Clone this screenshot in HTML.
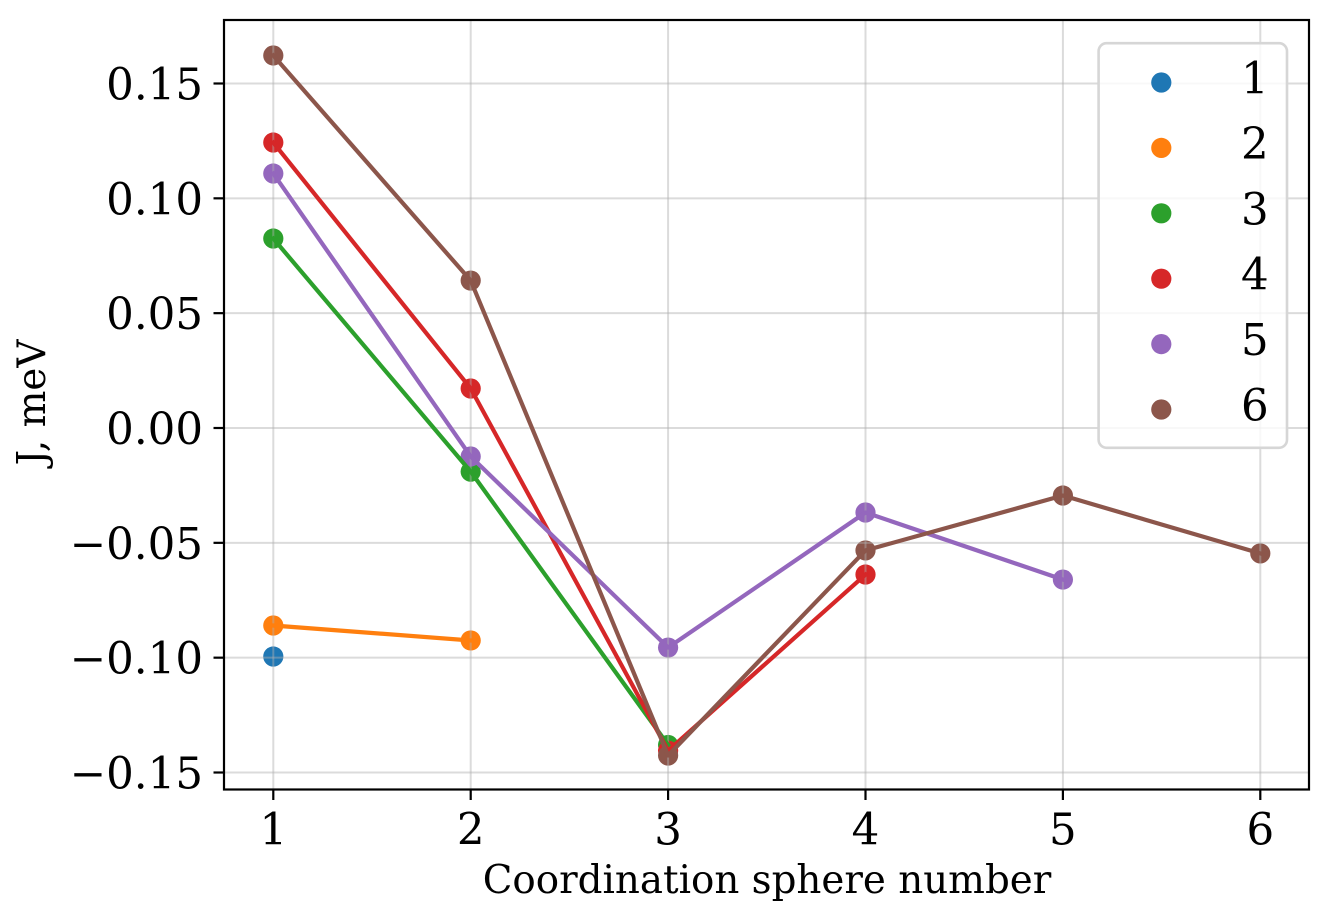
<!DOCTYPE html>
<html>
<head>
<meta charset="utf-8">
<title>Exchange coupling by coordination sphere</title>
<style>
html,body{margin:0;padding:0;background:#fff;}
svg{display:block;}
text{font-family:"DejaVu Serif",serif;fill:#000;}
</style>
</head>
<body>
<svg id="chart" xmlns="http://www.w3.org/2000/svg" width="1328" height="921" viewBox="0 0 1328 921"></svg>
<script>
const xTicks = [1, 2, 3, 4, 5, 6];
const yTicks = [0.15, 0.10, 0.05, 0.00, -0.05, -0.10, -0.15];
const yTickLabels = ["0.15", "0.10", "0.05", "0.00", "\u22120.05", "\u22120.10", "\u22120.15"];
const seriesNames = ["1", "2", "3", "4", "5", "6"];
const seriesColors = ["#1f77b4", "#ff7f0e", "#2ca02c", "#d62728", "#9467bd", "#8c564b"];
const series1 = [-0.0995];
const series2 = [-0.0860, -0.0925];
const series3 = [0.0825, -0.0190, -0.1380];
const series4 = [0.1243, 0.0172, -0.1405, -0.0638];
const series5 = [0.1108, -0.0124, -0.0956, -0.0368, -0.0660];
const series6 = [0.1622, 0.0642, -0.1426, -0.0533, -0.0294, -0.0546];
const allSeries = [series1, series2, series3, series4, series5, series6];

const svg = document.getElementById('chart');
const NS = 'http://www.w3.org/2000/svg';
const plot = {l: 224, r: 1309, t: 20, b: 789.5};
function xScale(v) { return 273.3 + (v - 1) * 197.4; }
function yScale(v) { return 428 - v * 2296.7; }
function make(tag, attrs, parent) {
  const el = document.createElementNS(NS, tag);
  for (const k in attrs) el.setAttribute(k, attrs[k]);
  (parent || svg).appendChild(el);
  return el;
}

// scatter markers sit below the grid and lines
allSeries.forEach(function (vals, s) {
  vals.forEach(function (v, i) {
    const dot = make('circle', {cx: xScale(i + 1), cy: yScale(v), r: 10.1, fill: seriesColors[s]});
    
    
  });
});

// grid
xTicks.forEach(function (t) {
  const g = make('line', {x1: xScale(t), x2: xScale(t), y1: plot.t, y2: plot.b, stroke: '#b0b0b0', 'stroke-opacity': 0.45, 'stroke-width': 2});
  
  
});
yTicks.forEach(function (t, i) {
  const g = make('line', {x1: plot.l, x2: plot.r, y1: yScale(t), y2: yScale(t), stroke: '#b0b0b0', 'stroke-opacity': 0.45, 'stroke-width': 2});
  
  
});

// lines
allSeries.forEach(function (vals, s) {
  if (vals.length < 2) return;
  const pts = vals.map(function (v, i) { return xScale(i + 1) + ',' + yScale(v); }).join(' ');
  const line = make('polyline', {points: pts, fill: 'none', stroke: seriesColors[s], 'stroke-width': 4.2, 'stroke-linecap': 'square', 'stroke-linejoin': 'round'});
  
  
});

// frame
const frame = make('rect', {x: plot.l, y: plot.t, width: plot.r - plot.l, height: plot.b - plot.t, fill: 'none', stroke: '#000', 'stroke-width': 2.2});



// ticks
xTicks.forEach(function (t) {
  const tick = make('line', {x1: xScale(t), x2: xScale(t), y1: plot.b, y2: plot.b + 10.5, stroke: '#000', 'stroke-width': 2.2});
  
  
  const label = make('text', {x: xScale(t), y: 844.5, 'text-anchor': 'middle', 'font-size': 43.5});
  label.textContent = String(t);
  
  
});
yTicks.forEach(function (t, i) {
  const tick = make('line', {x1: plot.l - 10.5, x2: plot.l, y1: yScale(t), y2: yScale(t), stroke: '#000', 'stroke-width': 2.2});
  
  
  const label = make('text', {x: 203, y: yScale(t) + 16, 'text-anchor': 'end', 'font-size': 43.5});
  label.textContent = yTickLabels[i];
  
  
});

// axis titles
const xTitle = make('text', {x: 767, y: 893, 'text-anchor': 'middle', 'font-size': 38.8});
xTitle.textContent = 'Coordination sphere number';


const yTitle = make('text', {x: 0, y: 0, 'text-anchor': 'middle', 'font-size': 38.8, transform: 'translate(45 402.5) rotate(-90)'});
yTitle.textContent = 'J, meV';



// legend
const legend = make('g', {});


const box = make('rect', {x: 1098.6, y: 43.2, width: 188.4, height: 404.6, rx: 8, ry: 8, fill: '#fff', 'fill-opacity': 0.8, stroke: '#d6d6d6', 'stroke-width': 2.6}, legend);


seriesNames.forEach(function (name, i) {
  const rowY = 82.5 + i * 65.4;
  const m = make('circle', {cx: 1161.3, cy: rowY, r: 10.1, fill: seriesColors[i]}, legend);
  
  
  const t = make('text', {x: 1241, y: rowY + 11, 'font-size': 43.5}, legend);
  t.textContent = name;
  
  
});
</script>
</body>
</html>
